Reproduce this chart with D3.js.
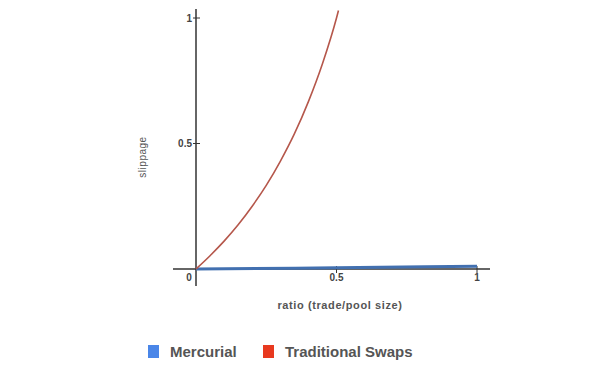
<!DOCTYPE html>
<html>
<head>
<meta charset="utf-8">
<script src="https://cdn.jsdelivr.net/npm/d3@7"></script>
<style>
  body { margin: 0; background: #fff; }
  svg { display: block; font-family: "Liberation Sans", Arial, sans-serif; }
</style>
</head>
<body>
<div id="chart"></div>
<script>
// data
var tradRatio = [0, 0.05, 0.1, 0.15, 0.2, 0.25, 0.3, 0.35, 0.4, 0.45, 0.5, 0.507];
var tradSlip  = [0, 0.053, 0.111, 0.176, 0.25, 0.333, 0.429, 0.538, 0.667, 0.818, 1.0, 1.03];
var mercRatio = [0, 0.5, 1];
var mercSlip  = [0, 0.005, 0.011];
var xTicks = [0.5, 1];
var yTicks = [0.5, 1];
var legendNames = ["Mercurial", "Traditional Swaps"];
var legendColors = ["#4a86e8", "#e8391f"];

var width = 600, height = 366;

var svg = d3.select("#chart")
  .append("svg")
  .attr("width", width)
  .attr("height", height);

// scales
var x = d3.scaleLinear().domain([0, 1]).range([196, 477]);
var y = d3.scaleLinear().domain([0, 1]).range([269, 18]);

// axis lines
svg.append("line")
  .attr("x1", x(0)).attr("x2", x(0))
  .attr("y1", 9).attr("y2", 286)
  .attr("stroke", "#333").attr("stroke-width", 1.5);
svg.append("line")
  .attr("x1", 173).attr("x2", 490)
  .attr("y1", y(0)).attr("y2", y(0))
  .attr("stroke", "#333").attr("stroke-width", 1.5);

// y ticks
svg.selectAll("ytick")
  .data(yTicks)
  .enter()
  .append("line")
    .attr("x1", x(0) - 3).attr("x2", x(0) + 4)
    .attr("y1", function(d){ return y(d) }).attr("y2", function(d){ return y(d) })
    .attr("stroke", "#333").attr("stroke-width", 1);
svg.selectAll("ylab")
  .data(yTicks)
  .enter()
  .append("text")
    .attr("x", x(0) - 4)
    .attr("y", function(d){ return y(d) + 3.5 })
    .attr("text-anchor", "end")
    .attr("font-size", "10px")
    .attr("font-weight", "bold")
    .attr("fill", "#444")
    .text(function(d){ return d });

// x ticks
svg.selectAll("xtick")
  .data(xTicks)
  .enter()
  .append("line")
    .attr("x1", function(d){ return x(d) }).attr("x2", function(d){ return x(d) })
    .attr("y1", y(0) - 3).attr("y2", y(0) + 4)
    .attr("stroke", "#333").attr("stroke-width", 1);
svg.selectAll("xlab")
  .data(xTicks)
  .enter()
  .append("text")
    .attr("x", function(d){ return x(d) })
    .attr("y", y(0) + 12)
    .attr("text-anchor", "middle")
    .attr("font-size", "10px")
    .attr("font-weight", "bold")
    .attr("fill", "#444")
    .text(function(d){ return d });
svg.append("text")
  .attr("x", x(0) - 7)
  .attr("y", y(0) + 12)
  .attr("text-anchor", "middle")
  .attr("font-size", "10px")
  .attr("font-weight", "bold")
  .attr("fill", "#444")
  .text("0");

// axis titles
svg.append("text")
  .attr("transform", "translate(146,157) rotate(-90)")
  .attr("text-anchor", "middle")
  .attr("font-size", "10px")
  .attr("fill", "#555")
  .attr("letter-spacing", "0.5px")
  .text("slippage");
svg.append("text")
  .attr("x", 340)
  .attr("y", 309)
  .attr("text-anchor", "middle")
  .attr("font-size", "11px")
  .attr("font-weight", "bold")
  .attr("fill", "#555")
  .attr("letter-spacing", "0.6px")
  .text("ratio (trade/pool size)");

// lines
var line = d3.line()
  .x(function(d){ return x(d[0]) })
  .y(function(d){ return y(d[1]) })
  .curve(d3.curveMonotoneX);

svg.append("path")
  .datum(d3.zip(mercRatio, mercSlip))
  .attr("d", line)
  .attr("fill", "none")
  .attr("stroke", "#4270b0")
  .attr("stroke-width", 3);

svg.append("path")
  .datum(d3.zip(tradRatio, tradSlip))
  .attr("d", line)
  .attr("fill", "none")
  .attr("stroke", "#b5574b")
  .attr("stroke-width", 1.6);

// legend
var legendX = [148, 263];
svg.selectAll("legsq")
  .data(legendNames)
  .enter()
  .append("rect")
    .attr("x", function(d, i){ return legendX[i] })
    .attr("y", 345)
    .attr("width", 11)
    .attr("height", 13)
    .attr("fill", function(d, i){ return legendColors[i] });
svg.selectAll("legtext")
  .data(legendNames)
  .enter()
  .append("text")
    .attr("x", function(d, i){ return legendX[i] + 22 })
    .attr("y", 357)
    .attr("font-size", "15px")
    .attr("font-weight", "bold")
    .attr("fill", "#555")
    .text(function(d){ return d });
</script>
</body>
</html>
